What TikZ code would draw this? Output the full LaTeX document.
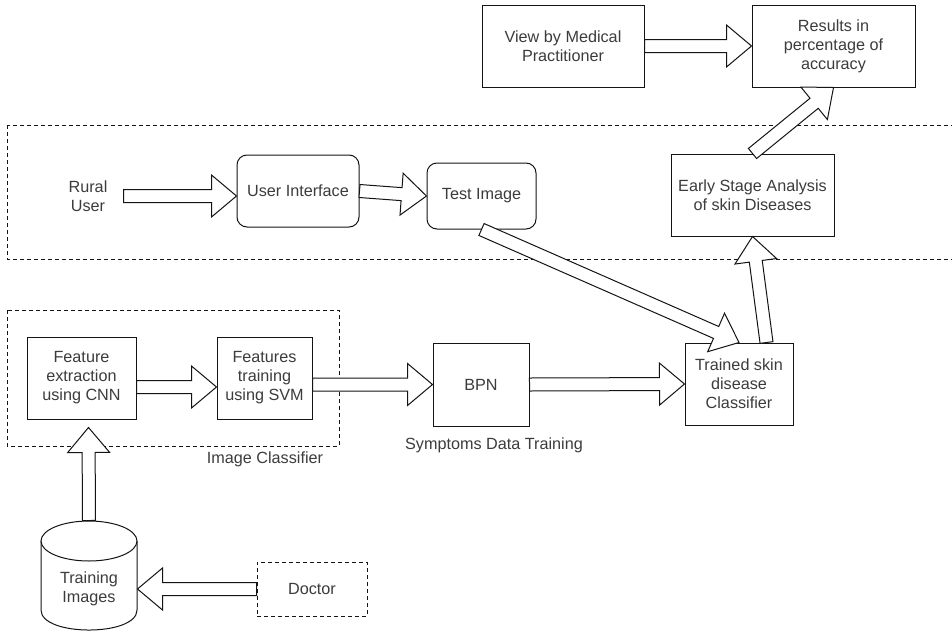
\documentclass[tikz,border=0pt]{standalone}
\usepackage{fontspec}
\setmainfont{Liberation Sans}
\usetikzlibrary{calc}
\definecolor{ink}{RGB}{20,20,20}
\definecolor{txt}{RGB}{60,60,60}

% hollow block arrow from #1 to #2 (tip at #2)
\newcommand\fatarrow[2]{%
  \coordinate (faS) at (#1);
  \coordinate (faE) at (#2);
  \coordinate (faH) at ($(faE)!25pt!(faS)$);
  \draw[blockarrow] ($(faS)!6.5pt!90:(faE)$) -- ($(faH)!6.5pt!-90:(faS)$)
    -- ($(faH)!21pt!-90:(faS)$) -- (faE) -- ($(faH)!21pt!90:(faS)$)
    -- ($(faH)!6.5pt!90:(faS)$) -- ($(faS)!6.5pt!-90:(faE)$) -- cycle;}

\tikzset{
  box/.style={draw=ink, fill=white, align=center, inner sep=0pt},
  rbox/.style={box, rounded corners=10pt},
  plain/.style={align=center, inner sep=0pt},
  dashbox/.style={draw=ink, dash pattern=on 4pt off 3pt},
  blockarrow/.style={draw=ink, fill=white, line join=miter},
}

\begin{document}
\begin{tikzpicture}[x=1pt, y=-1pt, line width=1pt,
  font=\fontsize{16.2}{19}\selectfont, text=txt]
\clip (0,0) rectangle (952,632);
\fill[white] (0,0) rectangle (952,632);

% dashed groups
\draw[dashbox] (7,125) rectangle (970,259);
\draw[dashbox] (7,310) rectangle (339,446);

% top row
\node[box, minimum width=162pt, minimum height=82pt] (view) at (563,46) {View by Medical\\Practitioner};
\node[box, minimum width=163pt, minimum height=82pt] (results) at (833.5,46) {Results in\\percentage of\\accuracy};

% user side
\node[plain, minimum width=70pt] (rural) at (88,196) {Rural\\User};
\node[rbox, minimum width=122pt, minimum height=72pt] (ui) at (298,191) {User Interface};
\node[rbox, minimum width=109pt, minimum height=66pt] (test) at (481.5,196) {Test Image};
\node[box, minimum width=163pt, minimum height=82pt] (early) at (752.5,195) {Early Stage Analysis\\of skin Diseases};

% training side
\node[box, minimum width=109pt, minimum height=82pt] (fe) at (81.5,378) {Feature\\extraction\\using CNN};
\node[box, minimum width=95pt, minimum height=82pt] (ft) at (264.5,378) {Features\\training\\using SVM};
\node[box, minimum width=96pt, minimum height=83pt] (bpn) at (481,384.5) {BPN};
\node[box, minimum width=108pt, minimum height=82pt] (trained) at (739,384) {Trained skin\\disease\\Classifier};

\node[plain] (imgcls) at (265,459) {Image Classifier};
\node[plain] (symp) at (494,445) {Symptoms Data Training};

% database cylinder
\node[minimum width=96pt, minimum height=109pt, inner sep=0pt] (cyl) at (89,575.5) {};
\draw[ink, fill=white] (41,541) -- (41,610) .. controls (41,636.7) and (137,636.7) .. (137,610) -- (137,541);
\draw[ink, fill=white] (89,541) ellipse [x radius=48pt, y radius=20pt];
\node[plain] (cyltext) at (89,589) {Training\\Images};

\node[box, dash pattern=on 4pt off 3pt, minimum width=110pt, minimum height=54pt] (doctor) at (312,589) {Doctor};

% connectors
\fatarrow{rural.east}{ui.west |- rural.east}
\fatarrow{ui.east}{test.west}
\fatarrow{test.south}{trained.north}
\fatarrow{$(trained.north east)+(-27,0)$}{early.south}
\fatarrow{early.north}{results.south}
\fatarrow{view.east}{results.west}
\fatarrow{$(fe.east)+(0,9)$}{$(ft.west)+(0,9)$}
\fatarrow{ft.east |- bpn.west}{bpn.west}
\fatarrow{bpn.east}{trained.west}
\fatarrow{cyl.north}{$(fe.south)+(7,8)$}
\fatarrow{doctor.west}{cyl.east |- doctor.west}
\end{tikzpicture}
\end{document}
